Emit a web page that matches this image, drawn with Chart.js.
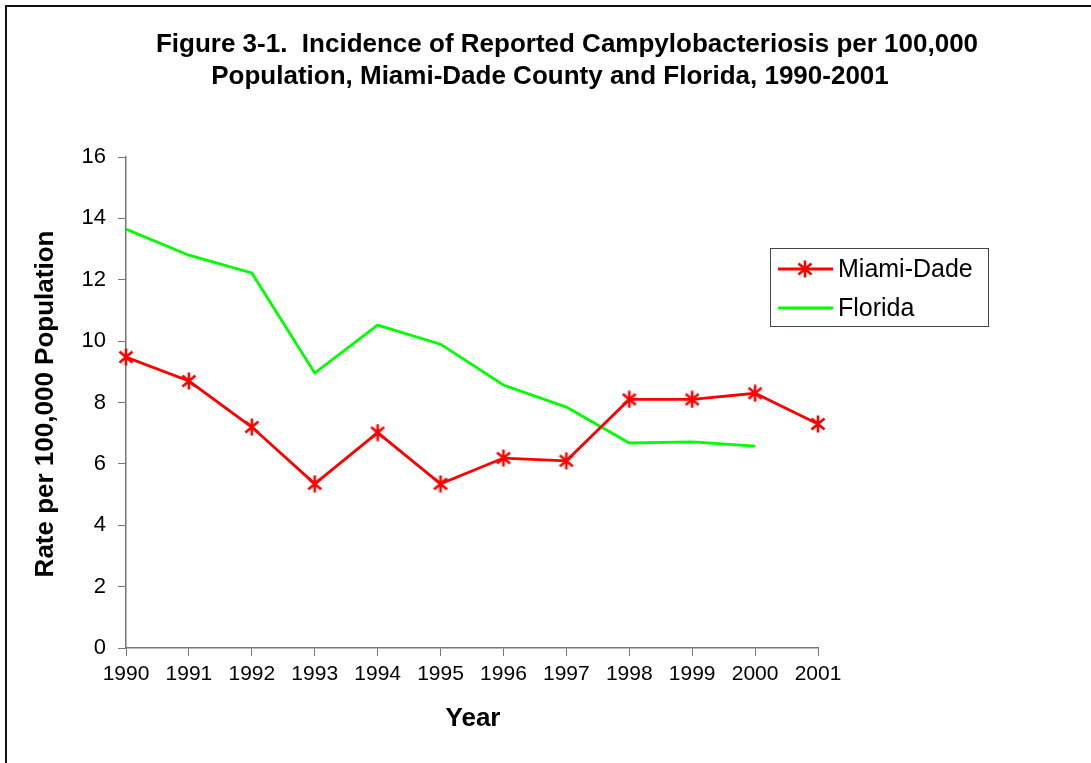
<!DOCTYPE html>
<html>
<head>
<meta charset="utf-8">
<script src="https://cdn.jsdelivr.net/npm/chart.js@4"></script>
<style>
  html, body { margin: 0; padding: 0; background: #fff; }
  #wrap { position: relative; width: 1091px; height: 763px; overflow: hidden; }
  #frame { position: absolute; left: 5px; top: 5px; width: 1100px; height: 800px; border: 2px solid #111; box-sizing: border-box; }
  canvas { position: absolute; left: 0; top: 0; }
</style>
</head>
<body>
<div id="wrap">
  <div id="frame"></div>
  <canvas id="chart" width="1091" height="763"></canvas>
</div>
<script>
const years = ["1990", "1991", "1992", "1993", "1994", "1995", "1996", "1997", "1998", "1999", "2000", "2001"];
const miamiDade = [9.48, 8.7, 7.2, 5.35, 7.02, 5.35, 6.19, 6.1, 8.1, 8.1, 8.3, 7.3];
const florida = [13.65, 12.8, 12.22, 8.96, 10.52, 9.9, 8.57, 7.85, 6.68, 6.72, 6.58, null];
const yTicks = [0, 2, 4, 6, 8, 10, 12, 14, 16];

const titleLines = [
    "Figure 3-1.  Incidence of Reported Campylobacteriosis per 100,000",
    "Population, Miami-Dade County and Florida, 1990-2001"
];
const font = "'Liberation Sans', Arial, sans-serif";

// asterisk marker like the Excel one: vertical bar plus an X
function makeStar(color) {
    const c = document.createElement("canvas");
    c.width = 18; c.height = 18;
    const g = c.getContext("2d");
    g.strokeStyle = color;
    g.lineWidth = 2.6;
    g.beginPath();
    g.moveTo(9, 0.5); g.lineTo(9, 17.5);
    g.moveTo(2.5, 3.5); g.lineTo(15.5, 14.5);
    g.moveTo(15.5, 3.5); g.lineTo(2.5, 14.5);
    g.stroke();
    return c;
}
const star = makeStar("#ff0000");

const extras = {
    id: "extras",
    afterDraw(chart) {
        const ctx = chart.ctx;
        ctx.save();
        ctx.fillStyle = "#000";
        ctx.textAlign = "center";
        ctx.textBaseline = "middle";

        // title
        ctx.font = "bold 26px " + font;
        ctx.fillText(titleLines[0], 567, 45);
        ctx.fillText(titleLines[1], 550, 77);

        // axis titles
        ctx.font = "bold 26px " + font;
        ctx.fillText("Year", 473, 719);
        ctx.save();
        ctx.translate(46, 404);
        ctx.rotate(-Math.PI / 2);
        ctx.fillText("Rate per 100,000 Population", 0, 0);
        ctx.restore();

        // legend box
        ctx.strokeStyle = "#444";
        ctx.lineWidth = 1;
        ctx.strokeRect(770.5, 248.5, 218, 78);
        ctx.textAlign = "left";
        ctx.font = "25px " + font;
        const rows = [269, 308];
        chart.data.datasets.forEach((ds, i) => {
            const y = rows[i];
            ctx.strokeStyle = ds.borderColor;
            ctx.lineWidth = ds.borderWidth;
            ctx.beginPath();
            ctx.moveTo(778, y);
            ctx.lineTo(833, y);
            ctx.stroke();
            if (ds.pointStyle instanceof HTMLCanvasElement) {
                ctx.drawImage(ds.pointStyle, 805 - 9, y - 9);
            }
            ctx.fillStyle = "#000";
            ctx.fillText(ds.label, 838, y + 1);
        });
        ctx.restore();
    }
};

new Chart(document.getElementById("chart"), {
    type: "line",
    data: {
        labels: years,
        datasets: [{
            label: "Miami-Dade",
            data: miamiDade,
            borderColor: "#ff0000",
            backgroundColor: "#ff0000",
            borderWidth: 2.8,
            pointStyle: star,
            pointRadius: 9,
            tension: 0
        }, {
            label: "Florida",
            data: florida,
            borderColor: "#00ff00",
            backgroundColor: "#00ff00",
            borderWidth: 2.8,
            pointRadius: 0,
            spanGaps: false,
            tension: 0
        }]
    },
    options: {
        responsive: false,
        animation: false,
        devicePixelRatio: 1,
        layout: { padding: { left: 0, top: 157, right: 273, bottom: 0 } },
        plugins: {
            legend: { display: false },
            title: { display: false },
            tooltip: { enabled: false }
        },
        scales: {
            x: {
                offset: false,
                afterFit(scale) { scale.height = 763 - 648; },
                grid: { drawOnChartArea: false, drawTicks: true, tickLength: 8, color: "#777" },
                border: { color: "#777", width: 1.5 },
                ticks: { color: "#000", font: { family: font, size: 21 }, padding: 6, maxRotation: 0, autoSkip: false }
            },
            y: {
                min: 0,
                max: 16,
                afterFit(scale) { scale.width = 126; },
                afterBuildTicks(scale) { scale.ticks = yTicks.map(v => ({ value: v })); },
                grid: { drawOnChartArea: false, drawTicks: true, tickLength: 8, color: "#777" },
                border: { color: "#777", width: 1.5 },
                ticks: { color: "#000", font: { family: font, size: 22 }, padding: 12 }
            }
        }
    },
    plugins: [extras]
});
</script>
</body>
</html>
